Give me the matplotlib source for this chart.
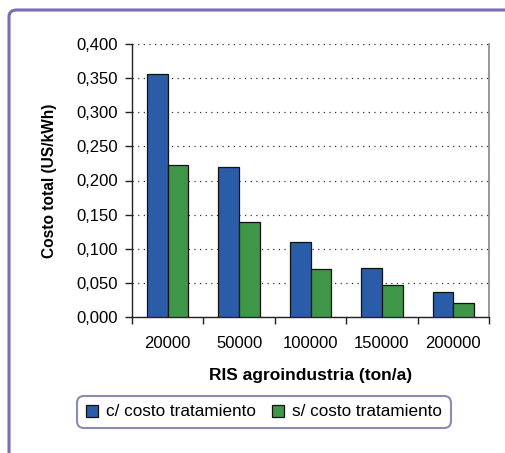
import matplotlib
matplotlib.use("Agg")
import matplotlib.pyplot as plt
from matplotlib.patches import FancyBboxPatch
from matplotlib.ticker import FuncFormatter, FixedLocator
import numpy as np

categories = ["20000", "50000", "100000", "150000", "200000"]
c_costo = [0.356, 0.220, 0.110, 0.072, 0.037]
s_costo = [0.223, 0.139, 0.071, 0.047, 0.020]
series_names = ["c/ costo tratamiento", "s/ costo tratamiento"]
yticks = [0.0, 0.05, 0.10, 0.15, 0.20, 0.25, 0.30, 0.35, 0.40]

plt.rcParams['font.family'] = ['Liberation Sans', 'DejaVu Sans']

W, H = 506, 453
fig = plt.figure(figsize=(W/100, H/100), dpi=100)

# outer frame
frame = FancyBboxPatch((9/W, -0.05), 1.2, (453-10)/H + 0.05,
                       boxstyle="round,pad=0,rounding_size=0.015",
                       transform=fig.transFigure, fill=False,
                       edgecolor="#7d6bb6", linewidth=2.2, clip_on=False)
fig.patches.append(frame)

ax = fig.add_axes([132/W, (H-317)/H, 357/W, 273/H])
x = np.arange(len(categories)) + 0.5
bw = 0.29
ax.bar(x - bw/2, c_costo, bw, color="#2b5ca8", edgecolor="#111111", linewidth=0.9,
       label=series_names[0], zorder=3)
ax.bar(x + bw/2, s_costo, bw, color="#3f9548", edgecolor="#111111", linewidth=0.9,
       label=series_names[1], zorder=3)

ax.set_xlim(0, len(categories))
ax.set_ylim(0, 0.4)
ax.set_yticks(yticks)
ax.yaxis.set_major_formatter(FuncFormatter(lambda v, p: f"{v:.3f}".replace(".", ",")))
ax.xaxis.set_major_locator(FixedLocator(np.arange(len(categories)+1)))
ax.set_xticklabels([])
ax.set_xticks(x, minor=True)
ax.set_xticklabels(categories, minor=True)
ax.tick_params(axis="x", which="major", direction="out", length=5, width=1, color="#222222")
ax.tick_params(axis="x", which="minor", length=0, pad=14, labelsize=12)
ax.tick_params(axis="y", direction="out", length=5, width=1, color="#222222", labelsize=12, pad=5)

ax.grid(axis="y", linestyle=(0, (1, 3.5)), color="#333333", linewidth=0.9, zorder=0)
ax.spines["top"].set_visible(False)
ax.spines["right"].set_color("#888888")
ax.spines["right"].set_linewidth(1.2)
ax.spines["left"].set_color("#222222")
ax.spines["bottom"].set_color("#222222")
ax.spines["left"].set_linewidth(1.0)
ax.spines["bottom"].set_linewidth(1.0)

ax.set_xlabel("RIS agroindustria (ton/a)", fontsize=12.5, fontweight="bold", labelpad=12)
ax.set_ylabel("Costo total (US/kWh)", fontsize=11.2, fontweight="bold", labelpad=14)

leg = fig.legend(loc="center", bbox_to_anchor=((78+450)/2/W, 1-(397+427)/2/H),
                 ncol=2, fontsize=12.3, frameon=True, fancybox=True,
                 handlelength=0.7, handleheight=0.7, handletextpad=0.5,
                 columnspacing=0.9, borderpad=0.3)
leg.get_frame().set_edgecolor("#6e6ea0")
leg.get_frame().set_linewidth(1.5)
leg.get_frame().set_boxstyle("round,pad=0.2,rounding_size=0.4")

fig.savefig("out.png", dpi=100)
